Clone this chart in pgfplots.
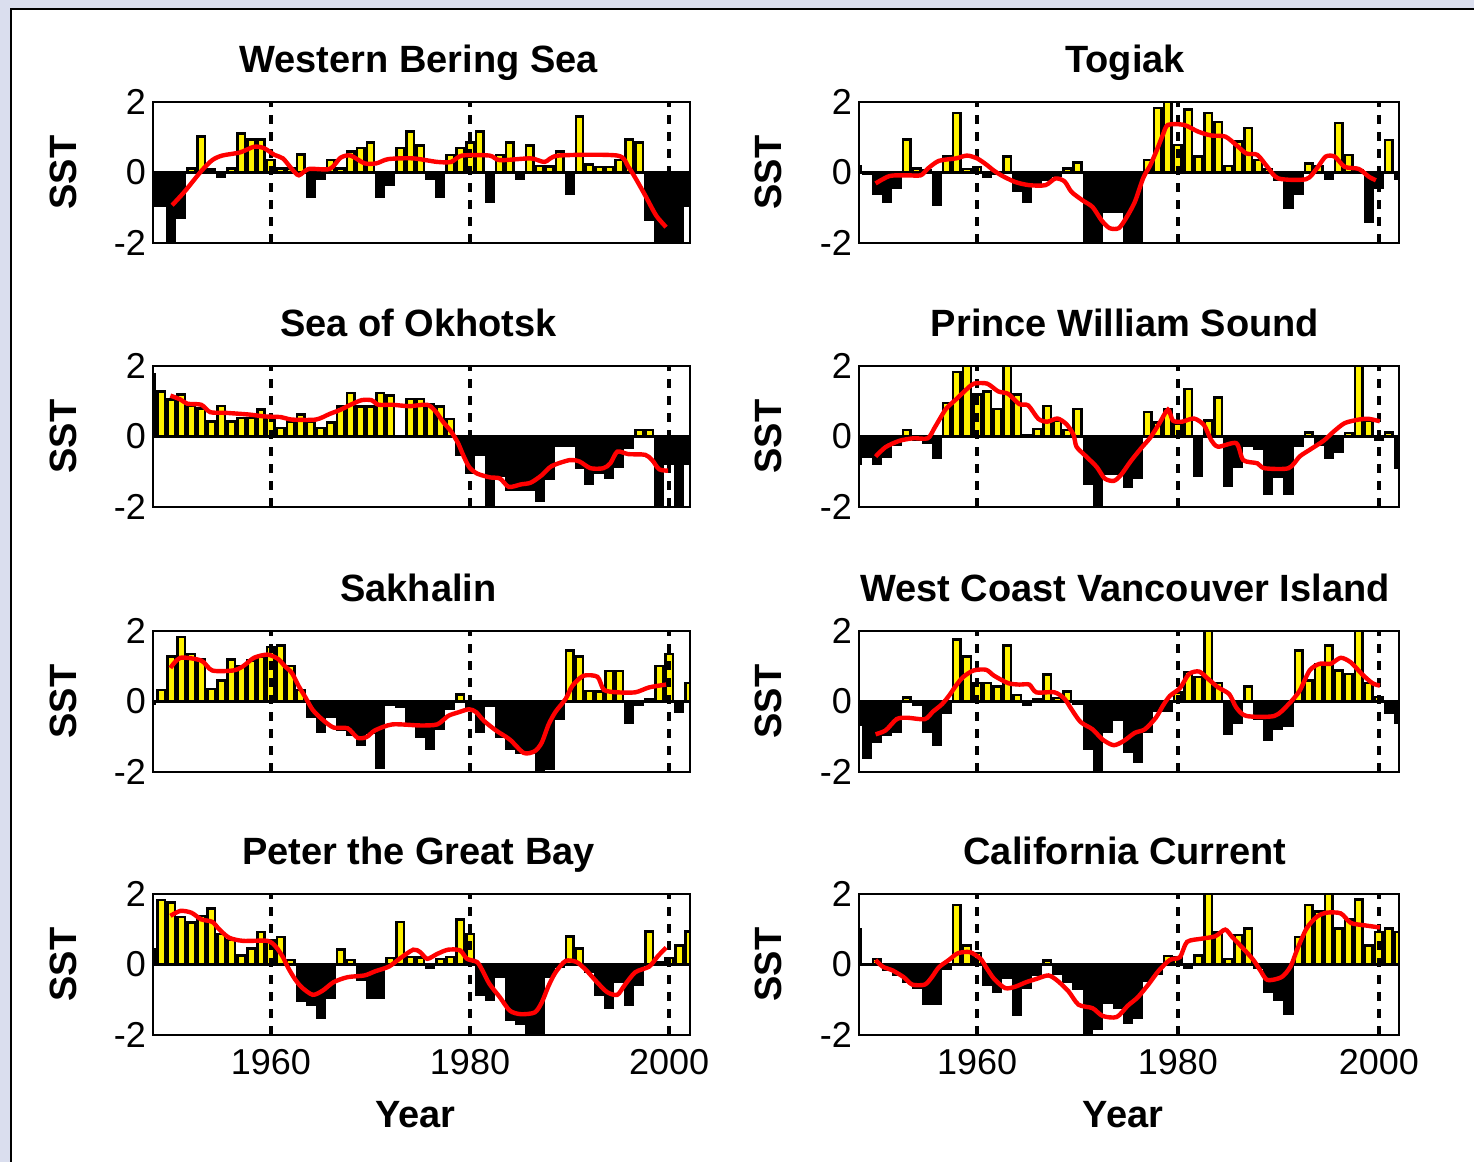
\documentclass[border=0pt]{standalone}
\usepackage{fontspec}
\setmainfont{Liberation Sans}
\usepackage{pgfplots}
\usepackage{pgfplotstable}
\pgfplotsset{compat=1.18}
\definecolor{bgblue}{RGB}{218,222,238}

% ---------- bar data (annual SST anomalies) ----------
\pgfplotstableread{
year val
1948 -0.93
1949 -0.93
1950 -2.3
1951 -1.27
1952 0.11
1953 1.02
1954 0.08
1955 -0.12
1956 0.11
1957 1.11
1958 0.94
1959 0.94
1960 0.35
1961 0.11
1962 0.11
1963 0.51
1964 -0.70
1965 -0.17
1966 0.35
1967 0.11
1968 0.59
1969 0.69
1970 0.85
1971 -0.70
1972 -0.34
1973 0.69
1974 1.16
1975 0.76
1976 -0.17
1977 -0.70
1978 0.50
1979 0.69
1980 0.85
1981 1.16
1982 -0.84
1983 0.50
1984 0.85
1985 -0.17
1986 0.76
1987 0.19
1988 0.17
1989 0.59
1990 -0.60
1991 1.59
1992 0.23
1993 0.16
1994 0.16
1995 0.35
1996 0.94
1997 0.85
1998 -1.33
1999 -2.3
2000 -2.3
2001 -2.3
2002 -0.93
}\tabA
\pgfplotstableread{
year val
1948 0.19
1949 -0.05
1950 -0.60
1951 -0.84
1952 -0.44
1953 0.94
1954 0.11
1955 0.05
1956 -0.91
1957 0.45
1958 1.69
1959 0.10
1960 0.15
1961 -0.12
1962 -0.05
1963 0.45
1964 -0.53
1965 -0.84
1966 -0.30
1967 -0.20
1968 -0.10
1969 0.11
1970 0.28
1971 -2.3
1972 -2.3
1973 -1.12
1974 -1.12
1975 -1.93
1976 -2.3
1977 0.35
1978 1.83
1979 2.0
1980 0.78
1981 1.78
1982 0.45
1983 1.69
1984 1.43
1985 0.19
1986 0.88
1987 1.26
1988 0.35
1989 0.10
1990 -0.20
1991 -1.00
1992 -0.60
1993 0.26
1994 0.19
1995 -0.17
1996 1.40
1997 0.50
1998 0.05
1999 -1.39
2000 -0.44
2001 0.92
2002 -0.17
}\tabB
\pgfplotstableread{
year val
1948 1.76
1949 1.27
1950 1.05
1951 1.19
1952 0.86
1953 0.80
1954 0.43
1955 0.86
1956 0.43
1957 0.52
1958 0.52
1959 0.76
1960 0.57
1961 0.24
1962 0.43
1963 0.62
1964 0.43
1965 0.24
1966 0.40
1967 0.85
1968 1.24
1969 0.85
1970 0.85
1971 1.24
1972 1.16
1973 0.0
1974 1.07
1975 1.07
1976 0.92
1977 0.85
1978 0.50
1979 -0.52
1980 -1.03
1981 -0.52
1982 -2.3
1983 -1.10
1984 -1.52
1985 -1.52
1986 -1.52
1987 -1.81
1988 -1.19
1989 -0.27
1990 -0.27
1991 -0.90
1992 -1.33
1993 -1.03
1994 -1.17
1995 -0.86
1996 -0.33
1997 0.19
1998 0.19
1999 -2.3
2000 -0.76
2001 -2.3
2002 -0.76
}\tabC
\pgfplotstableread{
year val
1948 -0.76
1949 -0.57
1950 -0.76
1951 -0.57
1952 -0.24
1953 0.19
1954 -0.10
1955 -0.17
1956 -0.59
1957 0.95
1958 1.83
1959 2.0
1960 1.19
1961 1.27
1962 0.78
1963 2.0
1964 1.19
1965 0.03
1966 0.21
1967 0.86
1968 0.45
1969 0.19
1970 0.78
1971 -1.33
1972 -2.3
1973 -1.05
1974 -1.05
1975 -1.43
1976 -1.17
1977 0.69
1978 0.40
1979 0.78
1980 0.35
1981 1.35
1982 -1.10
1983 0.45
1984 1.10
1985 -1.41
1986 -0.86
1987 -0.27
1988 -0.36
1989 -1.63
1990 -1.14
1991 -1.63
1992 -0.27
1993 0.12
1994 -0.24
1995 -0.59
1996 -0.43
1997 0.10
1998 2.0
1999 0.45
2000 -0.08
2001 0.12
2002 -0.90
}\tabD
\pgfplotstableread{
year val
1948 -0.05
1949 0.33
1950 1.27
1951 1.83
1952 1.35
1953 1.19
1954 0.35
1955 0.59
1956 1.19
1957 1.00
1958 1.16
1959 1.26
1960 1.54
1961 1.59
1962 1.00
1963 0.33
1964 -0.43
1965 -0.86
1966 -0.43
1967 -0.80
1968 -0.95
1969 -1.24
1970 -0.90
1971 -1.89
1972 -0.10
1973 -0.15
1974 -0.67
1975 -1.00
1976 -1.33
1977 -0.76
1978 -0.20
1979 0.20
1980 -0.20
1981 -0.86
1982 -0.12
1983 -1.00
1984 -1.33
1985 -1.45
1986 -1.45
1987 -2.3
1988 -1.90
1989 -0.50
1990 1.45
1991 1.27
1992 0.30
1993 0.29
1994 0.86
1995 0.86
1996 -0.59
1997 -0.10
1998 0.05
1999 1.00
2000 1.35
2001 -0.29
2002 0.52
}\tabE
\pgfplotstableread{
year val
1948 -0.67
1949 -1.60
1950 -1.14
1951 -0.95
1952 -0.86
1953 0.12
1954 -0.08
1955 -0.86
1956 -1.24
1957 -0.33
1958 1.76
1959 1.27
1960 0.52
1961 0.52
1962 0.43
1963 1.59
1964 0.19
1965 -0.08
1966 0.05
1967 0.76
1968 0.10
1969 0.29
1970 -0.05
1971 -1.33
1972 -2.3
1973 -0.86
1974 -0.52
1975 -1.43
1976 -1.71
1977 -0.86
1978 -0.27
1979 -0.25
1980 0.26
1981 0.83
1982 0.69
1983 2.0
1984 0.52
1985 -0.91
1986 -0.59
1987 0.43
1988 -0.50
1989 -1.08
1990 -0.76
1991 -0.70
1992 1.45
1993 0.59
1994 1.07
1995 1.59
1996 0.88
1997 0.78
1998 2.0
1999 0.52
2000 0.13
2001 -0.33
2002 -0.60
}\tabF
\pgfplotstableread{
year val
1948 0.43
1949 1.83
1950 1.76
1951 1.35
1952 1.19
1953 1.37
1954 1.59
1955 0.86
1956 0.69
1957 0.26
1958 0.45
1959 0.92
1960 0.69
1961 0.78
1962 0.13
1963 -1.03
1964 -1.14
1965 -1.52
1966 -0.93
1967 0.43
1968 0.13
1969 -0.43
1970 -0.93
1971 -0.93
1972 0.19
1973 1.21
1974 0.21
1975 0.20
1976 -0.10
1977 0.16
1978 0.21
1979 1.27
1980 0.86
1981 -0.86
1982 -1.00
1983 -0.36
1984 -1.58
1985 -1.68
1986 -2.3
1987 -2.3
1988 -0.36
1989 -0.05
1990 0.80
1991 0.45
1992 -0.22
1993 -0.86
1994 -1.24
1995 -0.50
1996 -1.14
1997 -0.57
1998 0.94
1999 0.05
2000 0.19
2001 0.54
2002 0.94
}\tabG
\pgfplotstableread{
year val
1948 1.00
1949 0.02
1950 0.15
1951 -0.14
1952 -0.30
1953 -0.48
1954 -0.67
1955 -1.10
1956 -1.10
1957 -0.12
1958 1.69
1959 0.54
1960 0.33
1961 -0.57
1962 -0.76
1963 -0.38
1964 -1.43
1965 -0.67
1966 -0.30
1967 0.12
1968 -0.25
1969 -0.50
1970 -0.70
1971 -2.3
1972 -1.81
1973 -1.08
1974 -1.24
1975 -1.65
1976 -1.50
1977 -0.46
1978 -0.25
1979 0.24
1980 0.20
1981 -0.10
1982 0.26
1983 2.0
1984 0.92
1985 0.16
1986 0.83
1987 1.02
1988 -0.10
1989 -0.76
1990 -1.00
1991 -1.41
1992 0.78
1993 1.69
1994 1.50
1995 2.0
1996 1.02
1997 1.29
1998 1.85
1999 0.54
2000 0.92
2001 1.02
2002 0.92
}\tabH

% ---------- smoothed curves ----------
\pgfplotstableread{
year val
1950.07 -0.93
1951.3 -0.55
1953.0 0.04
1954.1 0.35
1955.1 0.48
1956.9 0.57
1958.3 0.73
1959.3 0.69
1960.35 0.50
1961.2 0.40
1962.1 0.10
1962.8 -0.08
1963.8 0.10
1965.9 0.10
1967.0 0.42
1968.0 0.48
1969.4 0.26
1970.6 0.26
1971.8 0.38
1974.3 0.40
1976.7 0.30
1978.1 0.30
1979.2 0.48
1981.95 0.48
1983.0 0.35
1986.1 0.40
1987.5 0.30
1988.9 0.48
1994.8 0.48
1995.9 0.16
1996.6 -0.15
1997.6 -0.65
1998.7 -1.22
1999.7 -1.55
}\smA
\pgfplotstableread{
year val
1949.9 -0.31
1951.3 -0.10
1953.0 -0.08
1954.4 -0.08
1955.1 0.11
1956.2 0.33
1957.9 0.40
1959.0 0.48
1960.0 0.40
1960.9 0.23
1961.6 0.07
1962.4 -0.08
1963.8 -0.27
1965.2 -0.36
1966.8 -0.36
1967.8 -0.17
1968.7 -0.25
1969.4 -0.55
1970.5 -0.79
1971.5 -0.98
1972.4 -1.36
1973.2 -1.58
1974.1 -1.58
1974.8 -1.31
1975.7 -0.84
1976.55 -0.15
1977.25 0.21
1977.9 0.64
1978.5 1.07
1979.0 1.35
1980.6 1.35
1982.0 1.16
1983.3 1.05
1984.7 1.02
1985.8 0.78
1986.8 0.54
1987.9 0.50
1988.9 0.16
1990.0 -0.17
1992.75 -0.19
1993.8 0.11
1994.7 0.45
1995.6 0.45
1996.6 0.16
1998.0 0.10
1999.0 -0.12
1999.7 -0.22
}\smB
\pgfplotstableread{
year val
1949.9 1.16
1950.9 1.05
1951.6 0.93
1953.0 0.90
1953.9 0.69
1955.5 0.67
1957.9 0.62
1959.3 0.57
1961.0 0.55
1962.1 0.48
1964.5 0.48
1965.9 0.64
1967.0 0.76
1968.0 0.90
1969.1 1.03
1970.1 1.03
1970.8 0.90
1972.2 0.90
1973.9 0.86
1975.7 0.90
1976.55 0.71
1977.25 0.43
1978.1 0.14
1978.8 -0.19
1979.3 -0.52
1979.9 -0.86
1980.7 -1.05
1982.0 -1.16
1983.0 -1.19
1983.9 -1.43
1985.1 -1.36
1986.1 -1.31
1987.2 -1.10
1988.2 -0.84
1990.0 -0.67
1991.0 -0.71
1992.1 -0.90
1993.4 -0.90
1994.1 -0.76
1994.8 -0.43
1995.9 -0.50
1997.6 -0.52
1998.3 -0.67
1999.0 -0.93
1999.9 -0.97
}\smC
\pgfplotstableread{
year val
1949.9 -0.57
1950.9 -0.30
1952.3 -0.12
1953.7 -0.05
1955.1 -0.05
1955.8 0.26
1956.9 0.78
1957.9 1.05
1959.0 1.35
1959.7 1.50
1961.0 1.50
1962.1 1.28
1963.1 1.21
1964.2 0.92
1965.1 0.88
1966.1 0.50
1967.0 0.42
1968.0 0.51
1968.9 0.35
1969.6 0.05
1969.9 -0.29
1970.8 -0.55
1971.9 -0.86
1972.7 -1.19
1973.6 -1.26
1974.3 -1.10
1975.3 -0.70
1976.4 -0.31
1977.25 -0.03
1978.1 0.35
1979.0 0.76
1979.5 0.45
1980.4 0.42
1981.6 0.51
1982.6 0.32
1983.3 -0.10
1984.0 -0.29
1985.8 -0.19
1986.5 -0.67
1987.9 -0.76
1988.6 -0.90
1991.0 -0.90
1992.1 -0.57
1993.1 -0.38
1994.5 -0.12
1995.5 0.14
1996.6 0.38
1998.0 0.48
1999.0 0.50
2000.1 0.43
}\smD
\pgfplotstableread{
year val
1949.9 0.95
1950.9 1.24
1953.0 1.16
1954.1 0.88
1956.2 0.88
1957.2 1.00
1958.3 1.24
1959.65 1.33
1960.7 1.21
1961.4 1.00
1962.1 0.81
1962.8 0.43
1963.5 0.10
1964.2 -0.24
1965.2 -0.52
1966.3 -0.74
1967.7 -0.76
1968.7 -1.03
1969.6 -1.01
1970.45 -0.82
1972.2 -0.65
1975.0 -0.68
1976.7 -0.65
1977.8 -0.41
1978.8 -0.31
1979.9 -0.22
1980.6 -0.30
1981.4 -0.55
1982.6 -0.82
1984.0 -1.08
1985.4 -1.46
1986.5 -1.41
1987.2 -1.17
1987.9 -0.65
1988.6 -0.29
1989.6 0.07
1990.3 0.45
1991.4 0.73
1992.8 0.70
1993.45 0.33
1994.8 0.26
1996.6 0.26
1998.0 0.40
1999.7 0.48
}\smE
\pgfplotstableread{
year val
1949.9 -0.93
1950.9 -0.82
1952.0 -0.50
1953.0 -0.46
1954.8 -0.50
1955.6 -0.29
1956.5 -0.08
1957.2 0.16
1957.9 0.45
1958.6 0.69
1959.65 0.88
1960.9 0.90
1961.7 0.73
1963.1 0.52
1964.2 0.48
1965.2 0.48
1965.9 0.26
1967.7 0.26
1968.7 0.08
1969.4 -0.22
1970.3 -0.58
1971.5 -0.79
1972.5 -1.08
1973.6 -1.24
1974.6 -1.12
1975.7 -0.89
1976.7 -0.79
1977.8 -0.46
1978.5 -0.12
1979.2 0.16
1980.2 0.38
1981.1 0.78
1982.1 0.85
1983.0 0.64
1984.0 0.40
1985.1 0.21
1985.8 -0.17
1986.8 -0.41
1989.6 -0.41
1991.0 -0.08
1992.1 0.30
1993.1 0.88
1994.1 1.07
1995.2 1.07
1996.2 1.24
1997.2 1.11
1998.3 0.78
1999.35 0.52
2000.1 0.45
}\smF
\pgfplotstableread{
year val
1949.9 1.38
1950.9 1.52
1952.0 1.47
1953.0 1.28
1954.1 1.21
1954.8 1.00
1955.8 0.76
1957.2 0.67
1959.65 0.67
1960.5 0.50
1961.2 0.21
1961.7 -0.08
1962.4 -0.41
1963.1 -0.65
1964.2 -0.86
1965.2 -0.74
1966.3 -0.50
1967.7 -0.36
1969.4 -0.31
1970.5 -0.19
1971.85 -0.06
1972.9 0.16
1974.3 0.42
1975.0 0.35
1975.7 0.16
1976.7 0.30
1977.8 0.42
1979.0 0.40
1979.7 0.16
1980.7 0.07
1981.25 -0.17
1981.95 -0.55
1983.0 -0.93
1984.0 -1.31
1985.1 -1.41
1986.5 -1.36
1987.2 -1.08
1987.9 -0.60
1988.6 -0.22
1989.6 0.10
1990.7 0.07
1991.7 -0.17
1992.75 -0.50
1993.8 -0.79
1994.8 -0.86
1995.5 -0.60
1996.6 -0.22
1998.0 -0.06
1998.85 0.23
1999.7 0.48
}\smG
\pgfplotstableread{
year val
1949.9 0.13
1950.6 -0.06
1951.6 -0.17
1952.7 -0.36
1953.55 -0.57
1954.8 -0.57
1955.5 -0.36
1956.2 -0.08
1957.2 0.13
1958.1 0.32
1959.3 0.35
1960.35 0.16
1960.9 -0.08
1961.7 -0.41
1962.8 -0.67
1963.8 -0.63
1964.9 -0.50
1965.9 -0.41
1967.1 -0.31
1968.0 -0.46
1969.1 -0.76
1970.1 -1.14
1971.5 -1.24
1972.5 -1.46
1973.9 -1.49
1975.0 -1.17
1976.0 -0.93
1977.1 -0.55
1978.1 -0.17
1979.2 0.13
1980.2 0.21
1980.9 0.64
1982.3 0.73
1983.7 0.80
1984.7 0.99
1985.4 0.78
1986.5 0.45
1987.5 0.13
1988.2 -0.17
1988.9 -0.44
1990.3 -0.36
1991.2 -0.06
1991.9 0.45
1992.8 1.02
1993.8 1.35
1994.8 1.47
1996.2 1.45
1997.2 1.18
1998.6 1.11
2000.1 1.05
}\smH

\pgfplotsset{
  sstpanel/.style={
    scale only axis, height=70.5pt,
    ymin=-2, ymax=2, ytick={-2,0,2}, yticklabels={-2,0,2},
    xtick={1960,1980,2000}, xticklabels={},
    major tick length=0pt,
    axis on top,
    axis line style={line width=1.3pt},
    tick label style={font=\fontsize{18}{20}\selectfont},
    every axis title/.style={at={(0.5,1)}, anchor=base, yshift=14.75pt,
      font=\fontsize{19}{22}\selectfont\bfseries},
    ylabel={SST},
    every axis y label/.style={at={(axis description cs:-0.167,0.5)}, rotate=90, anchor=center,
      font=\fontsize{19}{22}\selectfont\bfseries},
  },
  leftp/.style={sstpanel, width=268.5pt, xmin=1948.15, xmax=2002.1, title style={xshift=-1.5pt}},
  rightp/.style={sstpanel, width=270pt, xmin=1948.25, xmax=2002, title style={xshift=-2pt}},
  bottomp/.style={xticklabels={1960,1980,2000}, xlabel={Year},
    every axis x label/.style={at={(axis description cs:0.5,0)}, anchor=center, yshift=-40pt, xshift=-3pt,
      font=\fontsize{19}{22}\selectfont\bfseries},
    xticklabel style={yshift=-3.5pt}},
  posbar/.style={ybar, bar width=0.75, bar shift=0pt, fill=yellow, draw=black, line width=1.25pt, restrict y to domain=0.001:10},
  negbar/.style={ybar, bar width=0.75, bar shift=0pt, fill=black, draw=black, line width=1.25pt, restrict y to domain=-10:-0.001},
  smline/.style={red, line width=2.2pt, smooth, tension=0.45, mark=none},
}

\newcommand{\decor}{%
  \draw[line width=1.4pt] (rel axis cs:0,0.5) -- (rel axis cs:1,0.5);
  \draw[line width=1.6pt, dash pattern=on 4.5pt off 4pt] (axis cs:1960,-2) -- (axis cs:1960,2);
  \draw[line width=1.6pt, dash pattern=on 4.5pt off 4pt] (axis cs:1980,-2) -- (axis cs:1980,2);
  \draw[line width=1.6pt, dash pattern=on 4.5pt off 4pt] (axis cs:2000,-2) -- (axis cs:2000,2);
}

\newcommand{\panel}[2]{%
  \addplot[posbar] table[x=year,y=val]{#1};
  \addplot[negbar] table[x=year,y=val]{#1};
  \decor
  \addplot[smline] table[x=year,y=val]{#2};
}

\begin{document}
\begin{tikzpicture}
\useasboundingbox (0,0) rectangle (737pt,581pt);
\fill[bgblue] (0,0) rectangle (737pt,581pt);
\fill[white] (5.5pt,0) rectangle (737pt,576.5pt);
\draw[line width=1pt] (5.5pt,0) -- (5.5pt,576.5pt) -- (737pt,576.5pt);

\begin{axis}[leftp, at={(76.5pt,459.5pt)}, anchor=south west, title={Western Bering Sea}]
\panel{\tabA}{\smA}
\end{axis}
\begin{axis}[rightp, at={(429.5pt,459.5pt)}, anchor=south west, title={Togiak}]
\panel{\tabB}{\smB}
\end{axis}

\begin{axis}[leftp, at={(76.5pt,327.5pt)}, anchor=south west, title={Sea of Okhotsk}]
\panel{\tabC}{\smC}
\end{axis}
\begin{axis}[rightp, at={(429.5pt,327.5pt)}, anchor=south west, title={Prince William Sound}]
\panel{\tabD}{\smD}
\end{axis}

\begin{axis}[leftp, at={(76.5pt,195pt)}, anchor=south west, title={Sakhalin}]
\panel{\tabE}{\smE}
\end{axis}
\begin{axis}[rightp, at={(429.5pt,195pt)}, anchor=south west, title={West Coast Vancouver Island}]
\panel{\tabF}{\smF}
\end{axis}

\begin{axis}[leftp, bottomp, at={(76.5pt,63.5pt)}, anchor=south west, title={Peter the Great Bay}]
\panel{\tabG}{\smG}
\end{axis}
\begin{axis}[rightp, bottomp, at={(429.5pt,63.5pt)}, anchor=south west, title={California Current}]
\panel{\tabH}{\smH}
\end{axis}
\end{tikzpicture}
\end{document}
